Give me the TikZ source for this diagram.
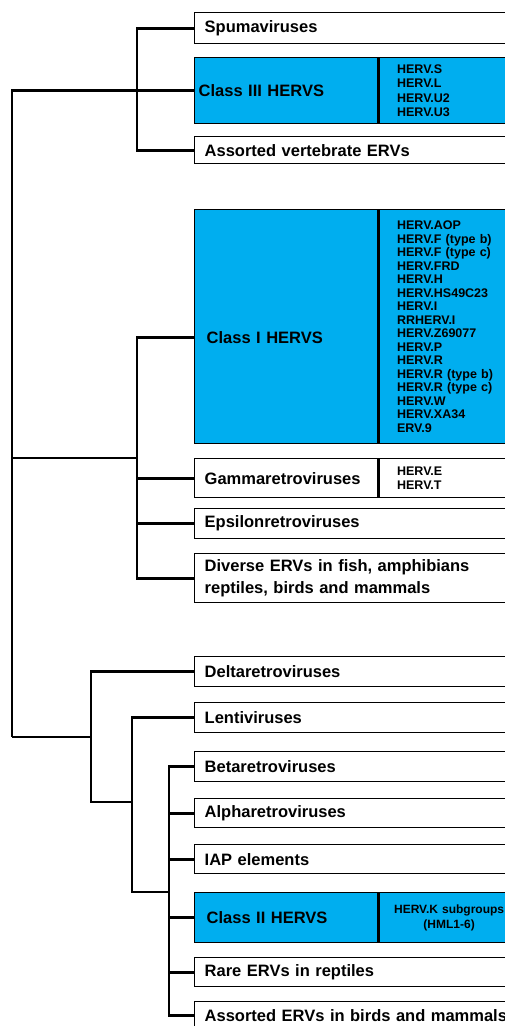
\documentclass[tikz,border=0pt]{standalone}
\usepackage{fontspec}
\setmainfont{Liberation Sans}
\definecolor{hervblue}{RGB}{0,174,239}
\tikzset{
  box/.style={draw, line width=1.4pt, anchor=north west, minimum width=330pt,
    inner xsep=10pt, text width=310pt, align=left,
    font=\fontsize{16.5}{22.5}\selectfont\bfseries},
  splitbox/.style={box, minimum width=183pt, text width=163pt},
  hervbox/.style={splitbox, fill=hervblue, inner xsep=12pt, text width=159pt},
  namelist/.style={box, minimum width=145pt, inner xsep=18pt, text width=109pt,
    font=\fontsize{12.5}{13.5}\selectfont\bfseries},
  sublist/.style={namelist, fill=hervblue},
  branch/.style={line width=2.7pt}
}

\begin{document}
\begin{tikzpicture}[x=1pt, y=-1pt]
\useasboundingbox (0,0) rectangle (505,1026);
\clip (0,0) rectangle (505,1026);
%first group
\node[box, minimum height=31pt] (spuma) at (194,12) {Spumaviruses};
\node[hervbox, minimum height=66pt, inner xsep=4pt, text width=175pt] (c3) at (194,57) {Class III HERVS};
\node[sublist, minimum height=66pt, font=\fontsize{12.5}{14.3}\selectfont\bfseries] (c3list) at (c3.north east)
  {HERV.S\\HERV.L\\HERV.U2\\HERV.U3};
\node[box, minimum height=27pt] (avert) at (194,136) {Assorted vertebrate ERVs};
%second group
\node[hervbox, minimum height=234pt] (c1) at (194,209) {\raisebox{-11pt}[\height][\depth]{Class I HERVS}};
\node[sublist, minimum height=234pt] (c1list) at (c1.north east)
  {HERV.AOP\\HERV.F (type b)\\HERV.F (type c)\\HERV.FRD\\HERV.H\\HERV.HS49C23\\HERV.I\\RRHERV.I\\HERV.Z69077\\HERV.P\\HERV.R\\HERV.R (type b)\\HERV.R (type c)\\HERV.W\\HERV.XA34\\ERV.9};
\node[splitbox, minimum height=39pt] (gamma) at (194,458) {Gammaretroviruses};
\node[namelist, minimum height=39pt, font=\fontsize{12.5}{14}\selectfont\bfseries] (gammalist) at (gamma.north east)
  {HERV.E\\HERV.T};
\node[box, minimum height=30pt] (epsilon) at (194,508) {Epsilonretroviruses};
\node[box, minimum height=49pt] (diverse) at (194,553)
  {Diverse ERVs in fish, amphibians\\reptiles, birds and mammals};
%third group
\node[box, minimum height=30pt] (delta) at (194,656) {Deltaretroviruses};
\node[box, minimum height=30pt] (lenti) at (194,702) {Lentiviruses};
\node[box, minimum height=30pt] (beta) at (194,751) {Betaretroviruses};
\node[box, minimum height=29pt] (alpha) at (194,798) {Alpharetroviruses};
\node[box, minimum height=29pt] (iap) at (194,844) {IAP elements};
\node[hervbox, minimum height=50pt] (c2) at (194,892) {Class II HERVS};
\node[sublist, minimum height=50pt, minimum width=140pt, inner xsep=5pt, text width=120pt, align=center,
  font=\fontsize{12}{15}\selectfont\bfseries] (c2list) at (c2.north east)
  {HERV.K subgroups\\(HML1-6)};
\node[box, minimum height=29pt] (rare) at (194,957) {Rare ERVs in reptiles};
\node[box, minimum height=28pt] (assbm) at (194,1001) {Assorted ERVs in birds and mammals};
%tree
\coordinate (root) at (12,737);
\coordinate (ka) at (137,93);
\coordinate (kb) at (137,458);
\coordinate (kd) at (91,737);
\coordinate (ke) at (132,802);
\coordinate (kf) at (169,892);
\coordinate (c1in) at ([yshift=-11pt]c1.west);
\draw[branch] (c3.west) -| (root);
\draw[branch] (spuma.west) -- (spuma.west -| ka) |- (avert.west);
\draw[branch] (kb -| root) -- (kb);
\draw[branch] (c1in) -- (c1in -| kb) |- (diverse.west);
\foreach \n in {gamma,epsilon}
  \draw[branch] (\n.west -| kb) -- (\n.west);
\draw[branch] (root) -- (kd);
\draw[branch] (delta.west) -- (delta.west -| kd) |- (ke);
\draw[branch] (lenti.west) -- (lenti.west -| ke) |- (kf);
\draw[branch] (beta.west) -- (beta.west -| kf) |- (assbm.west);
\foreach \n in {alpha,iap,c2,rare}
  \draw[branch] (\n.west -| kf) -- (\n.west);
\end{tikzpicture}
\end{document}
